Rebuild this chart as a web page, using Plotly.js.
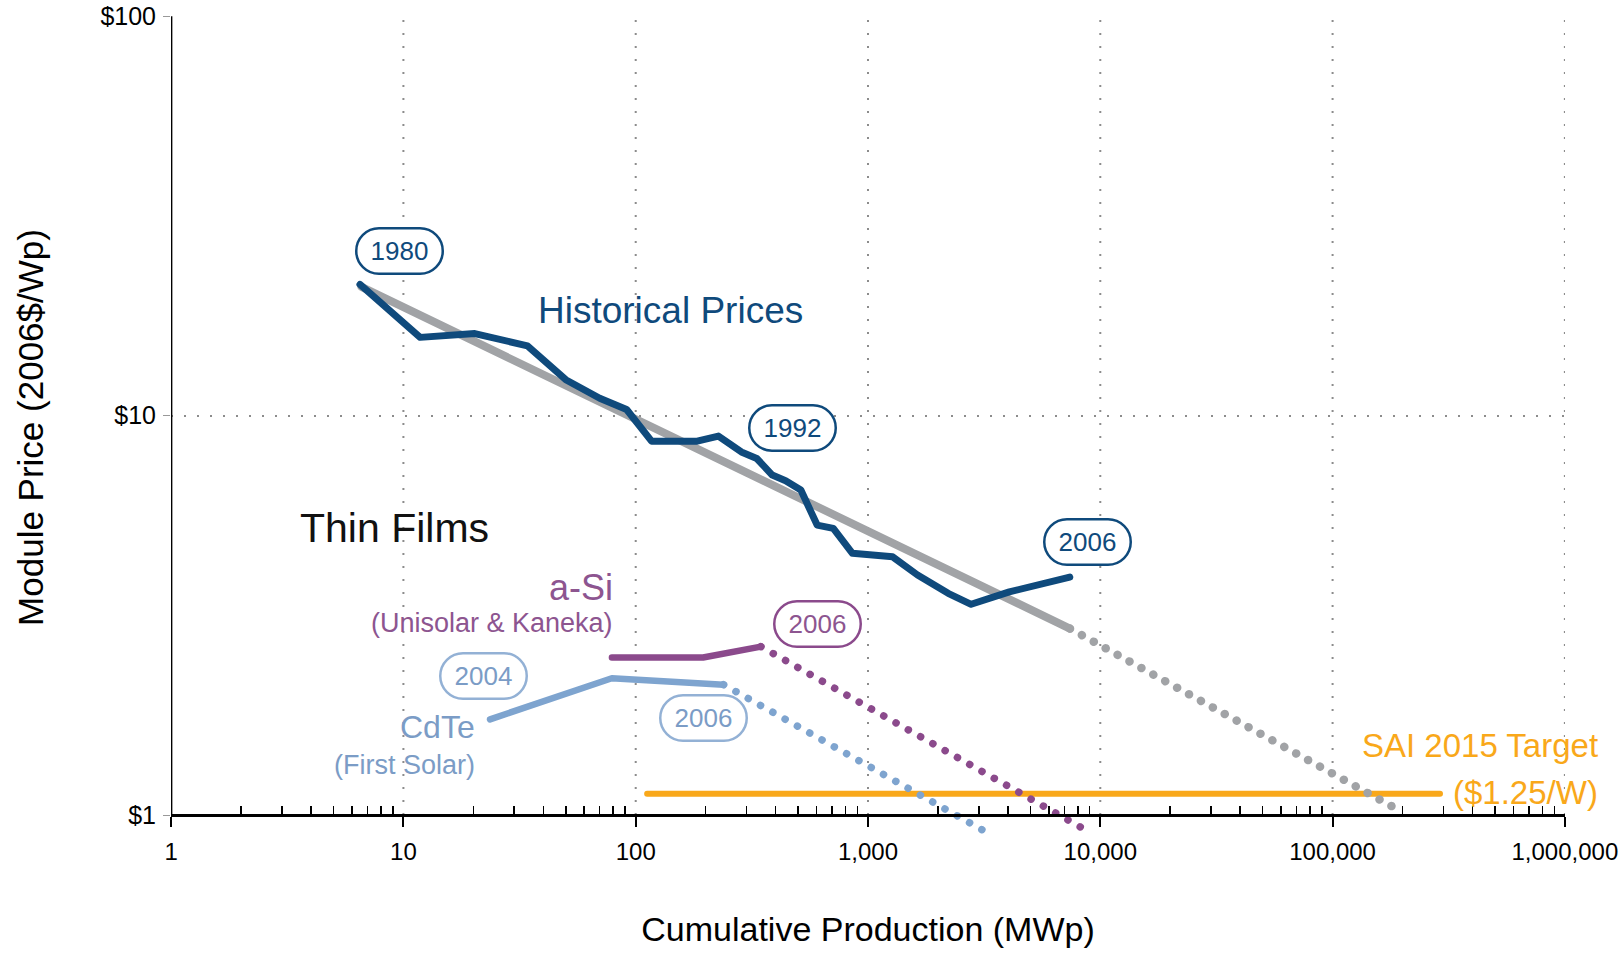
<!DOCTYPE html>
<html>
<head>
<meta charset="utf-8">
<script src="https://cdn.plot.ly/plotly-3.0.1.min.js"></script>
<style>
  html, body { margin: 0; padding: 0; background: #ffffff; }
  #chart { width: 1619px; height: 955px; }
  .js-line { stroke-linecap: round !important; stroke-linejoin: round !important; }
</style>
</head>
<body>
<div id="chart"></div>
<script>
// ---------------- data ----------------
// Historical module prices (cumulative production MWp, price 2006$/Wp)
const histMW    = [6.5, 11.8, 20.3, 34.2, 50, 70, 91.4, 117, 184, 227, 285, 332, 387, 442, 514, 604, 709, 857, 1277, 1634, 2214, 2780, 4058, 7390];
const histPrice = [21.3, 15.7, 16.05, 14.95, 12.3, 11.05, 10.36, 8.63, 8.63, 8.89, 8.11, 7.81, 7.10, 6.87, 6.51, 5.32, 5.22, 4.52, 4.43, 3.99, 3.59, 3.37, 3.62, 3.94];

// Experience-curve fit (solid) and its projection (dotted)
const trendMW        = [6.6, 7400];
const trendPrice     = [21.0, 2.93];
const trendProjMW    = [7400, 192000];
const trendProjPrice = [2.93, 1.03];

// Thin films: a-Si (Unisolar & Kaneka)
const asiMW        = [79, 195, 346];
const asiPrice     = [2.48, 2.48, 2.64];
const asiProjMW    = [346, 8930];
const asiProjPrice = [2.64, 0.908];

// Thin films: CdTe (First Solar)
const cdteMW        = [23.6, 78.9, 239];
const cdtePrice     = [1.736, 2.20, 2.12];
const cdteProjMW    = [239, 3220];
const cdteProjPrice = [2.12, 0.907];

// SAI 2015 target line
const targetMW    = [112, 290000];
const targetPrice = [1.13, 1.13];

// Axis ticks
const xTickVals = [1, 10, 100, 1000, 10000, 100000, 1000000];
const xTickText = ['1', '10', '100', '1,000', '10,000', '100,000', '1,000,000'];
const yTickVals = [1, 10, 100];
const yTickText = ['$1', '$10', '$100'];

// Year call-outs: label, MWp, price, style key
const yearLabels = ['1980', '1992', '2006', '2006', '2004', '2006'];
const yearMW     = [9.63, 471, 8790, 604, 22.2, 195];
const yearPrice  = [25.8, 9.33, 4.82, 3.0, 2.23, 1.746];
const yearStyle  = ['hist', 'hist', 'hist', 'asi', 'cdte', 'cdte'];

// ---------------- styling ----------------
const FONT = "'Liberation Sans', Arial, sans-serif";
const C = {
  hist: '#0f4a7c', trend: '#a1a3a6', asi: '#8b4a8c', cdte: '#7ea4cf',
  cdteText: '#7b9cc6', cdteBorder: '#93b1d5', target: '#f9a81a', grid: '#8c8c8c'
};
const bubbleStyle = {
  hist: {border: C.hist, text: C.hist},
  asi:  {border: C.asi, text: '#8d5590'},
  cdte: {border: C.cdteBorder, text: C.cdteText}
};

const yMinLog = -0.06, yMaxLog = 2.0005;
const lg = v => Math.log10(v);

function line(x, y, color, width, dash) {
  return {x, y, type: 'scatter', mode: 'lines', hoverinfo: 'skip', showlegend: false,
          line: {color, width, dash: dash || 'solid'}};
}

const traces = [
  line(targetMW, targetPrice, C.target, 6),
  line(trendMW, trendPrice, C.trend, 8),
  line(trendProjMW, trendProjPrice, C.trend, 8.5, '0.1px,13.5px'),
  line(cdteMW, cdtePrice, C.cdte, 6.5),
  line(cdteProjMW, cdteProjPrice, C.cdte, 7.5, '0.1px,14px'),
  line(asiMW, asiPrice, C.asi, 6.5),
  line(asiProjMW, asiProjPrice, C.asi, 7.5, '0.1px,14px'),
  line(histMW, histPrice, C.hist, 7)
];

// minor ticks: 2..9 within every decade of the x range
const minorVals = [];
for (let d = 0; d < 6; d++) for (let m = 2; m <= 9; m++) minorVals.push(m * Math.pow(10, d));

const yLo = yTickVals[0], yHi = yTickVals[yTickVals.length - 1];
// vertical dotted gridlines + y axis line as shapes (so they stop at the $1 axis)
const shapes = xTickVals.slice(1).map(v => ({
  type: 'line', xref: 'x', yref: 'y', layer: 'below',
  x0: v, x1: v, y0: yLo, y1: yHi,
  line: {color: C.grid, width: 2, dash: '2px,11px'}
}));
shapes.push({
  type: 'line', xref: 'x', yref: 'y', layer: 'above',
  x0: xTickVals[0], x1: xTickVals[0], y0: yLo, y1: yHi,
  line: {color: '#000', width: 2.5}
});

function text(t, xv, yv, size, color, xanchor, xshift) {
  return {x: lg(xv), y: lg(yv), xref: 'x', yref: 'y', text: t, showarrow: false,
          xanchor: xanchor || 'center', yanchor: 'middle', xshift: xshift || 0,
          font: {family: FONT, size, color}};
}

const annotations = [
  text('Historical Prices', 140.6, 18.37, 37, C.hist),
  text('Thin Films', 9.12, 5.22, 41, '#111111'),
  text('a-Si', 81.5, 3.71, 36, '#8d5590', 'right'),
  text('(Unisolar &amp; Kaneka)', 81.5, 3.02, 27, '#8d5590', 'right'),
  text('CdTe', 20.7, 1.664, 32, C.cdteText, 'right'),
  text('(First Solar)', 20.7, 1.334, 27, C.cdteText, 'right'),
  text('SAI 2015 Target', xTickVals[6], 1.49, 33, C.target, 'right', 35),
  text('($1.25/W)', xTickVals[6], 1.138, 33, C.target, 'right', 35)
];
yearLabels.forEach((lab, i) => {
  const s = bubbleStyle[yearStyle[i]];
  annotations.push({
    x: lg(yearMW[i]), y: lg(yearPrice[i]), xref: 'x', yref: 'y', text: lab, showarrow: false,
    xanchor: 'center', yanchor: 'middle',
    font: {family: FONT, size: 26, color: s.text},
    bordercolor: s.border, borderwidth: 2.5, borderpad: 5, bgcolor: '#ffffff',
    width: 74, height: 33
  });
});

const layout = {
  width: 1619, height: 955,
  margin: {l: 171, r: 54, t: 16, b: 116, pad: 0},
  paper_bgcolor: '#ffffff', plot_bgcolor: '#ffffff',
  showlegend: false,
  xaxis: {
    type: 'log', range: [-0.0005, 6.0005], anchor: 'free', position: (0 - yMinLog) / (yMaxLog - yMinLog),
    tickmode: 'array', tickvals: xTickVals, ticktext: xTickText,
    ticks: 'outside', ticklen: 10, tickwidth: 2, tickcolor: '#000',
    showline: true, linecolor: '#000', linewidth: 3,
    showgrid: false, zeroline: false,
    ticklabelstandoff: 4, ticklabeloverflow: 'allow',
    tickfont: {family: FONT, size: 24, color: '#000'},
    minor: {tickmode: 'array', tickvals: minorVals, ticks: 'inside', ticklen: 8, tickwidth: 1.5, tickcolor: '#000', showgrid: false},
    title: {text: 'Cumulative Production (MWp)', font: {family: FONT, size: 34, color: '#000'}, standoff: 53}
  },
  yaxis: {
    type: 'log', range: [yMinLog, yMaxLog],
    tickmode: 'array', tickvals: yTickVals, ticktext: yTickText,
    ticks: 'outside', ticklen: 7, tickwidth: 1, tickcolor: '#999',
    showline: false, zeroline: false,
    showgrid: true, gridcolor: C.grid, gridwidth: 2, griddash: '2px,11px',
    ticklabelstandoff: 2,
    tickfont: {family: FONT, size: 25, color: '#000'},
    title: {text: 'Module Price (2006$/Wp)', font: {family: FONT, size: 35, color: '#000'}, standoff: 46}
  },
  shapes, annotations
};

Plotly.newPlot('chart', traces, layout, {staticPlot: true}).then(() => {
  document.querySelectorAll('g.annotation rect.bg').forEach(r => {
    const sw = parseFloat(r.style.strokeWidth || r.getAttribute('stroke-width') || '0');
    if (sw > 0) {
      const h = parseFloat(r.getAttribute('height'));
      r.setAttribute('rx', h / 2);
      r.setAttribute('ry', h / 2);
    }
  });
});
</script>
</body>
</html>
